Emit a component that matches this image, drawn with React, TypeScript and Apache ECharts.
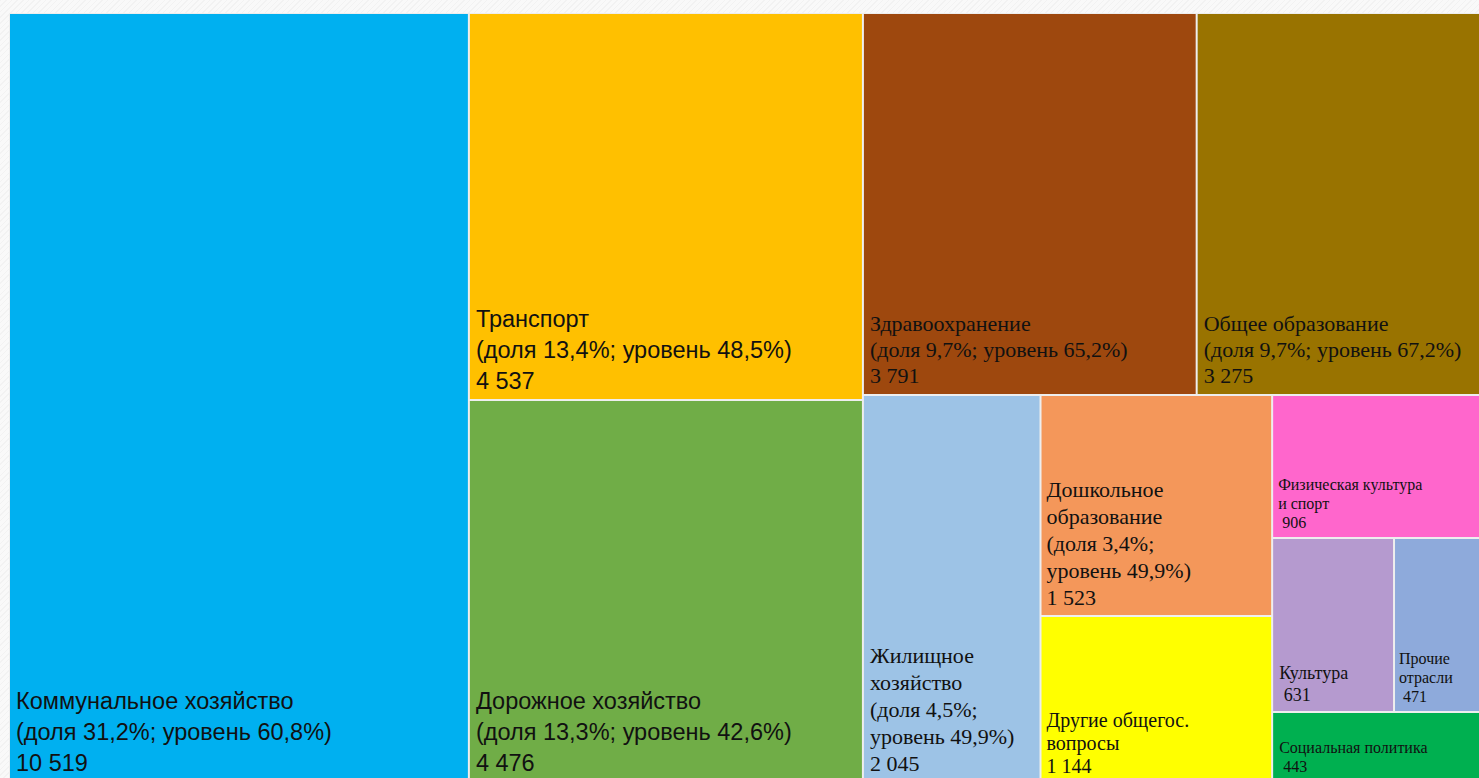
import React, { useEffect, useRef } from 'react';
import * as echarts from 'echarts';

const categories = [
  'Коммунальное хозяйство',
  'Транспорт',
  'Дорожное хозяйство',
  'Здравоохранение',
  'Общее образование',
  'Жилищное хозяйство',
  'Дошкольное образование',
  'Другие общегос. вопросы',
  'Физическая культура и спорт',
  'Культура',
  'Прочие отрасли',
  'Социальная политика',
];
const labelNames = [
  'Коммунальное хозяйство',
  'Транспорт',
  'Дорожное хозяйство',
  'Здравоохранение',
  'Общее образование',
  'Жилищное\nхозяйство',
  'Дошкольное\nобразование',
  'Другие общегос.\nвопросы',
  'Физическая культура\nи спорт',
  'Культура',
  'Прочие\nотрасли',
  'Социальная политика',
];
const values = [10519, 4537, 4476, 3791, 3275, 2045, 1523, 1144, 906, 631, 471, 443];
const shares = ['31,2', '13,4', '13,3', '9,7', '9,7', '4,5', '3,4', null, null, null, null, null];
const levelPct = ['60,8', '48,5', '42,6', '65,2', '67,2', '49,9', '49,9', null, null, null, null, null];
const colors = [
  '#00B0F0', '#FFC000', '#70AD47', '#9E480E', '#997300', '#9DC3E6',
  '#F4975A', '#FFFF00', '#FF66CC', '#B59ACF', '#8EAADB', '#00B050',
];

// grouping used to reproduce the nested (squarified) arrangement
const layoutTree: any[] = [0, [1, 2], [3, 4, [5, [6, 7, [8, [9, 10], 11]]]]];

const SANS = '"Liberation Sans", Arial, sans-serif';
const SERIF = '"Liberation Serif", "Times New Roman", serif';
const labelStyles = [
  { ff: SANS, fs: 23.5, lh: 31, wrap: false, pre: '', pb: 3, pl: 6 },
  { ff: SANS, fs: 23.5, lh: 31, wrap: false, pre: '', pb: 3, pl: 6 },
  { ff: SANS, fs: 23.5, lh: 31, wrap: false, pre: '', pb: 3, pl: 6 },
  { ff: SERIF, fs: 22, lh: 26, wrap: false, pre: '', pb: 5, pl: 6 },
  { ff: SERIF, fs: 22, lh: 26, wrap: false, pre: '', pb: 5, pl: 6 },
  { ff: SERIF, fs: 22, lh: 27, wrap: true, pre: '', pb: 4, pl: 6 },
  { ff: SERIF, fs: 22, lh: 27, wrap: true, pre: '', pb: 4, pl: 5 },
  { ff: SERIF, fs: 20, lh: 23, wrap: false, pre: '', pb: 4, pl: 5 },
  { ff: SERIF, fs: 16, lh: 19, wrap: false, pre: ' ', pb: 5, pl: 5 },
  { ff: SERIF, fs: 18, lh: 22, wrap: false, pre: ' ', pb: 5, pl: 6 },
  { ff: SERIF, fs: 16, lh: 19, wrap: false, pre: ' ', pb: 5, pl: 4 },
  { ff: SERIF, fs: 16, lh: 19, wrap: false, pre: ' ', pb: 5, pl: 6 },
];

const fmt = (v: number) => String(v).replace(/\B(?=(\d{3})+(?!\d))/g, ' ');

function labelText(i: number) {
  const s = labelStyles[i];
  const lines = [labelNames[i]];
  if (shares[i] != null) {
    lines.push(
      s.wrap
        ? `(доля ${shares[i]}%;\nуровень ${levelPct[i]}%)`
        : `(доля ${shares[i]}%; уровень ${levelPct[i]}%)`
    );
  }
  lines.push(s.pre + fmt(values[i]));
  return lines.join('\n');
}

let gid = 0;
function build(node: any): any {
  if (typeof node === 'number') {
    const s = labelStyles[node];
    return {
      name: categories[node],
      value: values[node],
      itemStyle: { color: colors[node], borderWidth: 1, borderColor: '#eeeeee', gapWidth: 0 },
      label: {
        show: true,
        fontFamily: s.ff,
        fontSize: s.fs,
        lineHeight: s.lh,
        padding: [0, 0, s.pb, s.pl],
      },
    };
  }
  gid += 1;
  return {
    name: 'group' + gid,
    children: node.map(build),
    itemStyle: { borderWidth: 0, gapWidth: 0 },
    label: { show: false },
    upperLabel: { show: false },
  };
}

export default function App() {
  const ref = useRef<HTMLDivElement>(null);
  useEffect(() => {
    if (!ref.current) return;
    const chart = echarts.init(ref.current, undefined, { renderer: 'svg' });
    gid = 0;
    const data = layoutTree.map(build);
    const textByName: Record<string, string> = {};
    categories.forEach((c, i) => (textByName[c] = labelText(i)));
    chart.setOption({
      animation: false,
      series: [
        {
          type: 'treemap',
          left: 0,
          top: 0,
          right: 0,
          bottom: 0,
          roam: false,
          nodeClick: false,
          silent: true,
          sort: false,
          squareRatio: 1,
          breadcrumb: { show: false },
          itemStyle: { borderWidth: 0, gapWidth: 0, borderColor: '#eeeeee' },
          upperLabel: { show: false },
          label: {
            show: true,
            position: 'insideBottomLeft',
            distance: 0,
            color: '#111111',
            overflow: 'none',
            formatter: (p: any) => textByName[p.name] ?? '',
          },
          data,
        },
      ],
    });
    return () => chart.dispose();
  }, []);
  return (
    <div
      style={{
        position: 'fixed',
        left: 0,
        top: 0,
        width: 1479,
        height: 778,
        overflow: 'hidden',
        background:
          'repeating-linear-gradient(135deg, #f2f2f2 0px, #f2f2f2 1px, #f9f9f9 1px, #f9f9f9 4px)',
      }}
    >
      <div
        ref={ref}
        style={{ position: 'absolute', left: 9, top: 13, width: 1476, height: 769 }}
      />
    </div>
  );
}
